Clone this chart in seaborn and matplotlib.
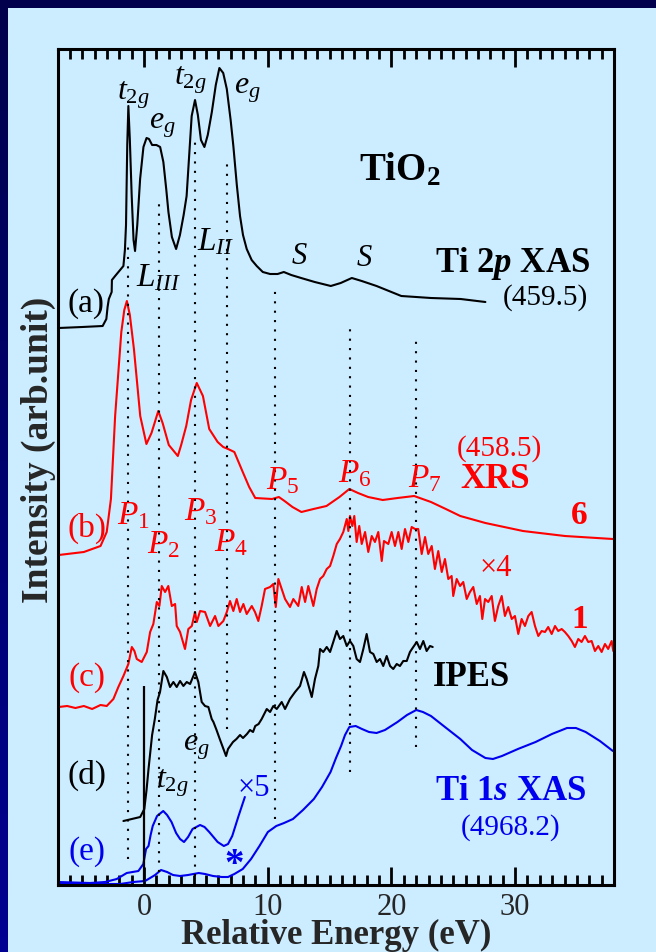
import numpy as np
import matplotlib
matplotlib.use("Agg")
import matplotlib.pyplot as plt
from matplotlib.colors import LinearSegmentedColormap
from matplotlib.patches import Rectangle
from matplotlib.ticker import MultipleLocator
import seaborn as sns

# ---------------- data (x in eV, y in arb. units) -------------
a_E = [-6.9, -5.0, -3.35, -3.05, -2.95, -2.85, -2.62, -2.6, -2.34, -1.67, -1.55, -1.46,
       -1.36, -1.27, -1.15, -1.0, -0.85, -0.73, -0.55, -0.32, -0.05, 0.2, 0.4, 0.65, 1.0,
       1.3, 1.56, 1.8, 1.97, 2.25, 2.59, 2.9, 3.2, 3.44, 3.65, 3.85, 4.12, 4.35, 4.6, 4.88,
       5.15, 5.48, 5.8, 6.09, 6.4, 6.69, 7.0, 7.22, 7.5, 7.76, 8.0, 8.3, 8.7, 9.11, 9.6,
       10.19, 10.8, 11.3, 11.9, 12.7, 13.8, 15.1, 15.9, 16.8, 17.6, 18.8, 20.8, 23.2, 25.6, 27.6]
a_y = [557, 558, 559, 566, 578, 586, 593, 605, 609, 619, 635, 660,
       740, 779, 745, 689, 645, 634, 660, 706, 738, 747, 746, 740, 740,
       738, 723, 695, 673, 648, 636, 650, 670, 689, 730, 769, 785, 770, 745, 738,
       750, 773, 800, 817, 812, 796, 765, 739, 700, 669, 650, 636, 625, 619, 613,
       611, 611, 613, 610, 607, 603, 599, 602, 607, 604, 599, 589, 587, 586, 583]

b_E = [-6.9, -4.87, -3.52, -3.02, -2.68, -2.34, -1.84, -1.6, -1.39, -1.15, -0.82, -0.31,
       0.19, 0.6, 1.15, 1.5, 2.0, 2.73, 3.0, 3.41, 3.8, 4.26, 4.76, 5.27, 5.95, 6.4, 6.79,
       7.3, 7.98, 8.5, 8.99, 10.35, 10.9, 11.36, 12.0, 12.72, 13.7, 14.75, 15.8, 16.6, 17.3,
       18.12, 19.3, 20.5, 21.84, 23.2, 24.4, 25.57, 27.6, 30.64, 34.03, 37.9]
b_y = [330, 333, 339, 353, 386, 469, 553, 575, 584, 570, 536, 469,
       441, 452, 474, 462, 440, 429, 440, 459, 485, 502, 489, 456, 443, 438, 436,
       433, 413, 398, 387, 386, 388, 384, 378, 373, 376, 379, 388, 396, 392,
       388, 385, 387, 389, 383, 376, 369, 362, 354, 349, 346]

c_E = [-6.90, -6.22, -5.55, -4.87, -4.20, -3.52, -3.02, -2.48, -2.08, -1.67, -1.27, -0.99,
       -0.78, -0.59, -0.19, 0.22, 0.49, 0.75, 1.03, 1.24, 1.43, 1.70, 1.96, 2.24, 2.51, 2.64,
       2.91, 3.31, 3.58, 3.86, 4.12, 4.26, 4.53, 4.93, 5.34, 5.74, 6.01, 6.41, 6.69, 6.95,
       7.22, 7.49, 7.76, 8.03, 8.30, 8.71, 8.97, 9.24, 9.51, 9.78, 10.19, 10.45, 10.65, 10.86,
       11.13, 11.40, 11.80, 12.07, 12.47, 12.75, 13.02, 13.28, 13.69, 13.96, 14.23, 14.49,
       14.77, 15.04, 15.30, 15.58, 15.84, 16.11, 16.39, 16.52, 16.65, 16.84, 17.00, 17.19,
       17.40, 17.60, 17.87, 18.13, 18.41, 18.67, 18.94, 19.22, 19.40, 19.75, 20.02, 20.29,
       20.56, 20.83, 21.10, 21.37, 21.64, 21.91, 22.17, 22.45, 22.72, 22.98, 23.26, 23.52,
       23.79, 24.07, 24.33, 24.60, 24.87, 25.00, 25.28, 25.55, 25.81, 26.09, 26.35, 26.62,
       26.90, 27.16, 27.35, 27.57, 27.83, 28.11, 28.37, 28.64, 28.92, 29.18, 29.45, 29.73,
       29.99, 30.26, 30.53, 30.80, 31.07, 31.34, 31.61, 31.88, 32.15, 32.42, 32.68, 32.96,
       33.23, 33.49, 33.77, 34.03, 34.30, 34.58, 34.84, 35.11, 35.38, 35.65, 35.92, 36.19,
       36.46, 36.73, 37.00, 37.27, 37.53, 37.81, 37.94]
c_y = [178, 179, 177, 179, 176, 180, 179, 186, 198, 209, 221, 238,
       234, 226, 223, 233, 253, 261, 283, 279, 299, 293, 299, 279, 281, 259,
       253, 236, 256, 259, 273, 263, 274, 273, 259, 269, 259, 264, 273, 284,
       274, 286, 273, 281, 271, 279, 273, 264, 279, 296, 298, 301, 278, 306,
       296, 286, 278, 286, 279, 298, 283, 299, 279, 296, 306, 309,
       316, 319, 329, 341, 346, 353, 366, 354, 369, 359, 369, 343,
       359, 341, 353, 333, 349, 343, 353, 324, 344, 341, 353, 339,
       353, 336, 356, 343, 358, 356, 356, 331, 348, 331, 339, 316,
       334, 313, 326, 306, 309, 289, 306, 299, 303, 286, 293, 298,
       281, 289, 266, 286, 283, 289, 264, 279, 289, 269, 278, 266,
       269, 251, 266, 259, 269, 273, 259, 249, 254, 253, 258, 251,
       259, 254, 256, 253, 249, 244, 238, 246, 243, 249, 243, 244,
       234, 239, 233, 241, 236, 244, 234]

d_E = [-1.67, -0.31, 0.02, 0.20, 0.36, 0.65, 0.87, 1.09, 1.29, 1.56, 1.84, 2.10, 2.37,
       2.64, 2.91, 3.18, 3.45, 3.72, 4.12, 4.39, 4.66, 4.93, 5.20, 5.47, 5.61, 5.86, 6.12,
       6.39, 6.63, 6.79, 6.96, 7.19, 7.47, 7.76, 8.00, 8.32, 8.57, 8.81, 8.99, 9.26, 9.51,
       9.92, 10.19, 10.45, 10.73, 11.13, 11.40, 11.80, 12.21, 12.61, 12.93, 13.15, 13.56,
       13.82, 14.09, 14.23, 14.49, 14.77, 15.04, 15.30, 15.58, 15.84, 16.11, 16.39, 16.65,
       16.92, 17.19, 17.46, 17.73, 18.00, 18.27, 18.54, 18.81, 19.08, 19.34, 19.62, 19.89,
       20.15, 20.43, 20.69, 20.96, 21.24, 21.50, 21.77, 22.05, 22.31, 22.58, 22.85, 23.12, 23.34]
d_y = [64, 68, 76, 95, 116, 150, 166, 185, 193, 214, 208, 198, 203,
       198, 204, 199, 203, 201, 213, 203, 183, 179, 178, 166, 163, 155, 146,
       137, 129, 136, 139, 143, 146, 150, 147, 151, 155, 153, 159, 161, 166,
       176, 173, 179, 176, 183, 176, 186, 193, 199, 213, 206, 188,
       206, 219, 236, 233, 238, 233, 243, 254, 246, 249, 239, 244,
       239, 226, 223, 236, 251, 233, 231, 223, 226, 219, 229, 219,
       216, 221, 219, 224, 224, 233, 238, 243, 236, 244, 234, 239, 238]

e5_E = [-6.99, -4.37, -3.15, -2.21, -1.40, -0.46, -0.06, 0.16, 0.36, 0.53, 0.70, 1.05,
        1.55, 1.86, 2.22, 2.59, 2.91, 3.23, 3.56, 3.92, 4.53, 4.89, 5.27, 5.95, 6.45,
        6.79, 7.13, 7.64, 8.15]
e5_y = [3, 2, 3, 6, 12, 14, 21, 36, 39, 50, 59, 69,
        74, 70, 63, 52, 46, 43, 48, 56, 60, 58, 53, 43, 39,
        41, 49, 69, 88]

e_E = [-6.99, -4.37, -1.94, -0.87, 0.08, 0.49, 0.89, 1.37, 1.86, 2.34, 2.91, 3.56, 4.42,
       4.93, 5.58, 6.29, 6.79, 7.30, 7.98, 8.65, 9.33, 10.01, 10.69, 11.32, 12.04, 12.85,
       13.73, 14.39, 15.08, 15.52, 15.93, 16.25, 16.60, 17.11, 17.62, 18.19, 18.80, 19.48,
       20.49, 21.26, 22.01, 22.55, 23.20, 24.33, 25.57, 26.52, 27.60, 28.21, 28.94, 30.23,
       31.66, 32.98, 34.20, 34.92, 35.71, 36.86, 37.91]
e_y = [2, 1, 1, 3, 4, 7, 10, 15, 13, 10, 9, 10, 12,
       11, 9, 8, 8, 11, 16, 26, 39, 53, 59, 62, 66, 75,
       86, 98, 113, 127, 139, 150, 158, 159, 156, 153, 152, 155,
       163, 170, 175, 173, 169, 158, 146, 135, 127, 126, 129, 136,
       143, 151, 157, 157, 153, 144, 134]

# Fermi level marker
ef_E = 0.0
ef_lo, ef_hi = 3, 199

# dotted guide lines (P1..P7)
guide_E = [-1.27, 1.24, 4.15, 6.71, 10.62, 16.64, 22.01]
guide_lo = [26, 13, 9, 156, 66, 113, 138]
guide_hi = [643, 684, 746, 726, 599, 559, 546]

x_ticks = [0, 10, 20, 30]
x_lim = (-7, 38)
y_lim = (0, 836)

# ---------------- style ----------------
sns.set_theme(style="white")
plt.rcParams.update({
    "font.family": ["Liberation Serif", "DejaVu Serif"],
    "mathtext.fontset": "custom",
    "mathtext.rm": "Liberation Serif",
    "mathtext.it": "Liberation Serif:italic",
    "mathtext.bf": "Liberation Serif:bold",
    "mathtext.bfit": "Liberation Serif:bold:italic",
})

NAVY_TOP = "#00004c"
NAVY_BOT = "#000092"
LIGHT = "#ccecff"
RED = "#ff0000"
BLUE = "#0000ee"
W, H = 656, 953

fig = plt.figure(figsize=(W / 100, H / 100), dpi=100)
bg = fig.add_axes([0, 0, 1, 1], zorder=-10)
bg.axis("off")
cmap = LinearSegmentedColormap.from_list("navy", [NAVY_BOT, NAVY_TOP])
bg.imshow(np.linspace(0, 1, 256)[:, None], cmap=cmap, aspect="auto",
          extent=[0, 1, 0, 1], origin="lower")
bg.add_patch(Rectangle((8 / W, 0), 1, 1 - 9 / H, color=LIGHT, lw=0))
bg.set_xlim(0, 1)
bg.set_ylim(0, 1)

ax = fig.add_axes([57.5 / W, 1 - 886 / H, (614 - 57.5) / W, (886 - 50) / H])
ax.set_facecolor("none")

lw = 1.5
sns.lineplot(x=a_E, y=a_y, ax=ax, color="black", lw=lw, sort=False, estimator=None)
sns.lineplot(x=b_E, y=b_y, ax=ax, color=RED, lw=lw, sort=False, estimator=None)
sns.lineplot(x=c_E, y=c_y, ax=ax, color=RED, lw=lw, sort=False, estimator=None)
sns.lineplot(x=d_E, y=d_y, ax=ax, color="black", lw=lw, sort=False, estimator=None)
sns.lineplot(x=e_E, y=e_y, ax=ax, color=BLUE, lw=lw, sort=False, estimator=None)
sns.lineplot(x=e5_E, y=e5_y, ax=ax, color=BLUE, lw=lw, sort=False, estimator=None)
ax.vlines(ef_E, ef_lo, ef_hi, colors="black", lw=1.6)
ax.vlines(guide_E, guide_lo, guide_hi, colors="black", lw=1.5,
          linestyles=[(0, (1, 3.5))])

ax.set_xlim(*x_lim)
ax.set_ylim(*y_lim)
ax.set_xticks(x_ticks)
ax.xaxis.set_minor_locator(MultipleLocator(1))
ax.set_yticks([])
ax.tick_params(axis="x", which="both", direction="in", top=True, bottom=True,
               color="black", labelsize=22, pad=5)
ax.tick_params(axis="x", which="major", length=13, width=2)
ax.tick_params(axis="x", which="minor", length=7, width=2)
for s in ax.spines.values():
    s.set_color("black")
    s.set_linewidth(2.2)

fig.text(336 / W, 1 - 944 / H, "Relative Energy (eV)", ha="center", va="baseline",
         fontsize=25, fontweight="bold")
fig.text(38 / W, 1 - 450 / H, "Intensity (arb.unit)", rotation=90, ha="center",
         va="center", fontsize=27, fontweight="bold")

def T(x, y, s, size=24, color="black", weight="normal", **kw):
    ax.text(x, y, s, fontsize=size, color=color, fontweight=weight,
            ha=kw.pop("ha", "center"), va=kw.pop("va", "center"), **kw)

# (a) Ti 2p XAS
T(-0.89, 791, r"$t_{2g}$", 23)
T(1.46, 761, r"$e_g$", 23)
T(3.72, 806, r"$t_{2g}$", 23)
T(8.33, 796, r"$e_g$", 23)
T(1.21, 608, r"$L_{III}$", 24)
T(5.82, 644, r"$L_{II}$", 24)
T(12.53, 629, "S", 22, style="italic")
T(17.79, 628, "S", 22, style="italic")
T(20.7, 716, r"TiO$_\mathbf{2}$", 28, weight="bold")
T(29.79, 622, r"Ti 2$\mathbfit{p}$ XAS", 25, weight="bold")
T(32.42, 588, "(459.5)", 21)
T(-4.69, 582, "(a)", 24)

# (b) XRS
T(-4.61, 358, "(b)", 24, RED)
T(-0.89, 370, r"$P_{\mathit{1}}$", 24, RED)
T(1.54, 341, r"$P_{\mathit{2}}$", 24, RED)
T(4.6, 374, r"$P_{\mathit{3}}$", 24, RED)
T(7.0, 343, r"$P_{\mathit{4}}$", 24, RED)
T(11.2, 405, r"$P_{\mathit{5}}$", 24, RED)
T(17.0, 412, r"$P_{\mathit{6}}$", 24, RED)
T(22.7, 407, r"$P_{\mathit{7}}$", 24, RED)
T(28.75, 437, "(458.5)", 21, RED)
T(28.4, 407, "XRS", 25, RED, "bold")
T(35.2, 370, "6", 24, RED, "bold")

# (c) XRS x4
T(-4.61, 208, "(c)", 24, RED)
T(28.45, 317, "\u00d74", 22, RED)
T(35.2, 267, "1", 24, RED, "bold")

# (d) IPES
T(-4.61, 111, "(d)", 24)
T(26.5, 208, "IPES", 25, weight="bold")
T(4.2, 138, r"$e_g$", 23)
T(2.26, 103, r"$t_{2g}$", 23)

# (e) Ti 1s XAS
T(-4.61, 34, "(e)", 24, BLUE)
T(8.9, 98, "\u00d75", 22, BLUE)
T(29.63, 94, r"Ti 1$\mathbfit{s}$ XAS", 25, BLUE, "bold")
T(29.63, 58, "(4968.2)", 21, BLUE)
T(7.28, 20, "*", 28, BLUE, "bold")

fig.savefig("out.png", dpi=100, facecolor=fig.get_facecolor())
